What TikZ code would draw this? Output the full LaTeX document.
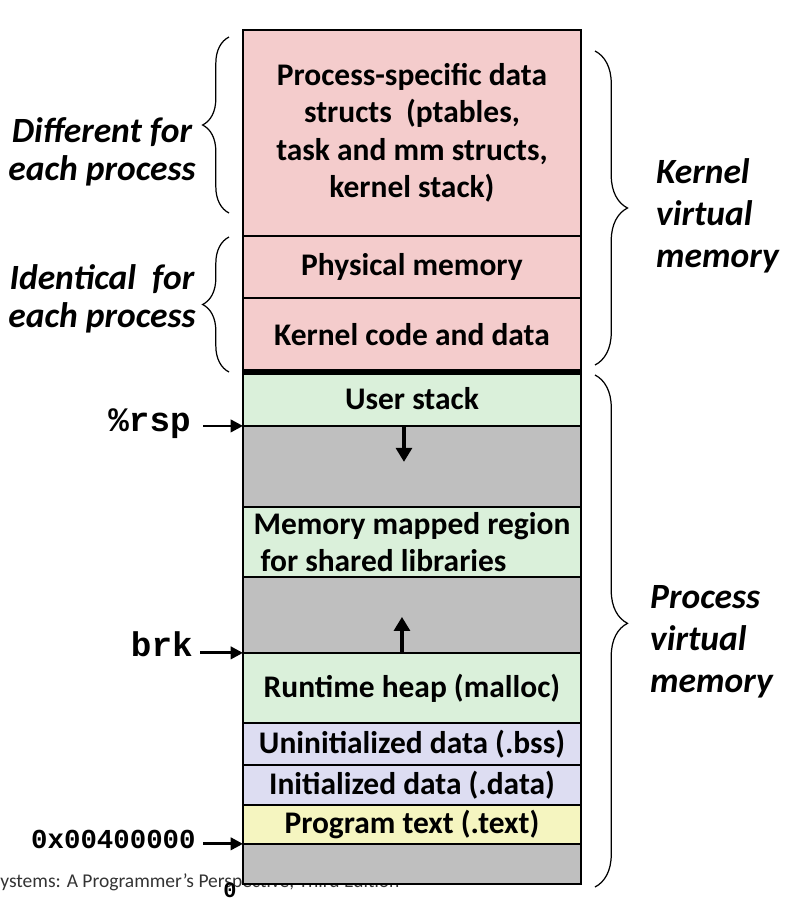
\documentclass[tikz,border=0pt]{standalone}
\usepackage{fontspec}
\setmainfont{Carlito}
\newfontfamily\codefont{Liberation Mono}
\usepackage{xcolor}
\usetikzlibrary{positioning,calc,arrows.meta,decorations.pathreplacing}

\definecolor{kpink}{RGB}{244,204,204}
\definecolor{ugreen}{RGB}{218,240,218}
\definecolor{ugray}{RGB}{191,191,191}
\definecolor{ulav}{RGB}{221,221,242}
\definecolor{uyellow}{RGB}{245,245,192}

\tikzset{
    seg/.style={draw, line width=1.3pt, outer sep=0pt, inner sep=0pt, minimum width=6.76cm, align=center, font=\bfseries\fontsize{17.9}{21.3}\selectfont},
    side/.style={font=\bfseries\itshape\fontsize{20.2}{21.3}\selectfont, align=center},
    vmlabel/.style={font=\bfseries\itshape\fontsize{20.2}{24}\selectfont, align=left, anchor=west},
    addr/.style={font=\codefont\bfseries, inner sep=0pt, anchor=east},
    ptr/.style={-{Triangle[length=7pt,width=7pt]}, line width=1.6pt},
    growarrow/.style={-{Triangle[length=8pt,width=9pt]}, line width=2.8pt},
    curly/.style={decorate, decoration={brace, amplitude=#1}, line width=0.7pt}
}

\begin{document}
\begin{tikzpicture}[x=0.02cm, y=-0.02cm]
    \useasboundingbox (0,0) rectangle (789,900);

    % Footer (partly hidden by the stack)
    \node[anchor=base west, inner sep=0pt, text=black!80, font=\fontsize{11.1}{12}\selectfont] (credit) at (0,887) {ystems: A Programmer’s Perspective, Third Edition};

    % Kernel part
    \node[seg, fill=kpink, minimum height=4.12cm, anchor=north west] (pdata) at (243,30) {Process-specific data\\ structs\ \ (ptables,\\task and mm structs,\\kernel stack)};
    \node[seg, fill=kpink, minimum height=1.24cm, below=0pt of pdata] (phys) {Physical memory};
    \node[seg, fill=kpink, minimum height=1.48cm, below=0pt of phys] (kcode) {Kernel code and data};

    % User part
    \node[seg, fill=ugreen, minimum height=1.08cm, below=0pt of kcode] (ustack) {User stack};
    \node[seg, fill=ugray, minimum height=1.62cm, below=0pt of ustack] (gap1) {};
    \node[seg, fill=ugreen, minimum height=1.40cm, below=0pt of gap1, align=left] (mmap) {Memory mapped region\\ \ for shared libraries};
    \node[seg, fill=ugray, minimum height=1.52cm, below=0pt of mmap] (gap2) {};
    \node[seg, fill=ugreen, minimum height=1.40cm, below=0pt of gap2] (heap) {Runtime heap (malloc)};
    \node[seg, fill=ulav, minimum height=0.84cm, below=0pt of heap] (bss) {Uninitialized data (.bss)};
    \node[seg, fill=ulav, minimum height=0.80cm, below=0pt of bss] (idata) {Initialized data (.data)};
    \node[seg, fill=uyellow, minimum height=0.78cm, below=0pt of idata] (ptext) {Program text (.text)};
    \node[seg, fill=ugray, minimum height=0.80cm, below=0pt of ptext] (gap3) {};

    % Kernel / user boundary
    \draw[line width=3pt] (kcode.south west) -- (kcode.south east);

    % Stack and heap growth
    \draw[growarrow] ($(gap1.north)+(-8,0)$) -- ++(0,36);
    \draw[growarrow] ($(gap2.south)+(-10,0)$) -- ++(0,-36);

    % Addresses
    \node[addr, font=\codefont\bfseries\fontsize{19.5}{20}\selectfont] (rsp) at ($(gap1.north west)+(-52,-2)$) {\%rsp};
    \node[addr, font=\codefont\bfseries\fontsize{19.5}{20}\selectfont] (brk) at ($(gap2.south west)+(-50,-9)$) {brk};
    \node[addr, font=\codefont\bfseries\fontsize{15.6}{16}\selectfont] (textstart) at ($(ptext.south west)+(-47,-4)$) {0x00400000};
    \node[font=\codefont\bfseries\fontsize{12.5}{12}\selectfont, inner sep=0pt] (zero) at ($(gap3.south west)+(-13,6)$) {0};
    \draw[ptr] ($(gap1.north west)+(-40,0)$) -- (gap1.north west);
    \draw[ptr] ($(gap2.south west)+(-43,0)$) -- (gap2.south west);
    \draw[ptr] ($(ptext.south west)+(-40,0)$) -- (ptext.south west);

    % Left braces
    \draw[curly=15pt] (229,213) -- (229,37);
    \node[side] (diff) at (102,152) {Different for\\each process};
    \draw[curly=15pt] (229,372) -- (229,237);
    \node[side] (same) at (102,299) {Identical\ \ for\\each process};

    % Right braces
    \draw[curly=18.5pt] (595,51) -- (595,365);
    \node[vmlabel] (kvm) at (650,216) {Kernel\\virtual\\memory};
    \draw[curly=18.5pt, decoration={aspect=0.485}] (595,375) -- (595,887);
    \node[vmlabel] (pvm) at (644,642) {Process\\virtual\\memory};
\end{tikzpicture}
\end{document}
